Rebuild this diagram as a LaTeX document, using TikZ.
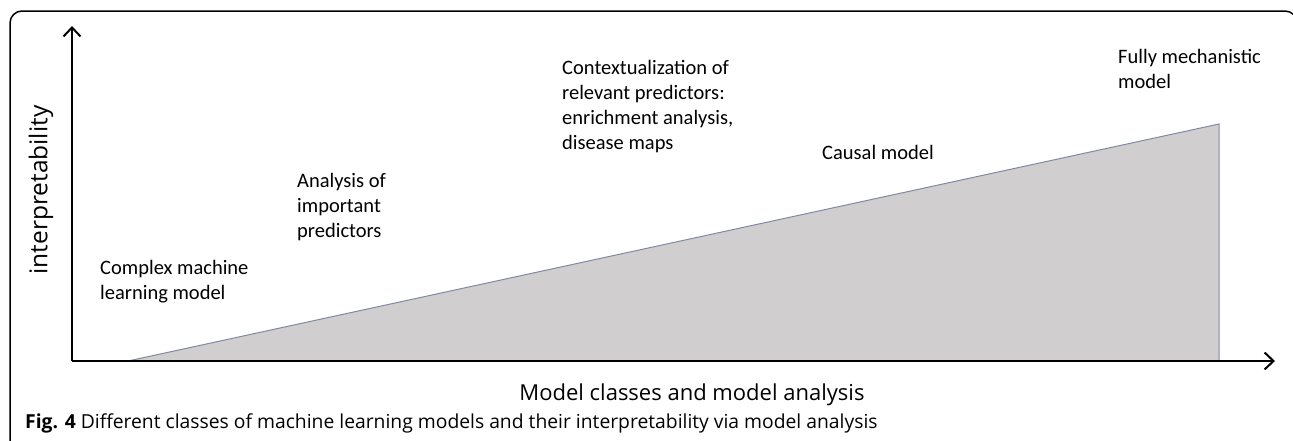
\documentclass[tikz,border=0pt]{standalone}
\usepackage{fontspec}
\setmainfont{Carlito}
\newfontfamily\axisfont{Open Sans}
\usepackage{tikz}
\usetikzlibrary{arrows.meta}
\definecolor{wedgefill}{HTML}{D0CECF}
\definecolor{wedgeline}{HTML}{7F8AA2}
\tikzset{axis/.style={line width=2pt,-{Straight Barb[length=9pt,width=17pt,line width=2pt]}}}
\tikzset{lbl/.style={anchor=base west,align=left,inner sep=0pt,font=\fontsize{20.5}{25}\selectfont}}

\begin{document}
\begin{tikzpicture}[x=1pt,y=-1pt]
	\useasboundingbox (0,0) rectangle (1293,440);
	\clip (0,0) rectangle (1293,440);
	\draw[line width=1.5pt,rounded corners=12pt] (10,446) -- (10,11) -- (1297,11) -- (1297,80);
	\coordinate (origin) at (72,361);
	\coordinate (ytip) at (72,26);
	\coordinate (xtip) at (1275,361);
	\coordinate (wl) at (128,361);
	\coordinate (wt) at (1219,124);
	\coordinate (wb) at (1219,361);
	\filldraw[fill=wedgefill,draw=wedgeline,line width=1pt] (wl) -- (wt) -- (wb) -- cycle;
	\draw[axis] (origin) -- (ytip);
	\draw[axis] (origin) -- (xtip);
	\node[lbl] (complex) at (100,299) {Complex machine\\learning model};
	\node[lbl] (important) at (297,237) {Analysis of\\important\\predictors};
	\node[lbl] (context) at (562,149) {Contextualization of\\relevant predictors:\\enrichment analysis,\\disease maps};
	\node[lbl] (causal) at (822,159) {Causal model};
	\node[lbl] (mechanistic) at (1118,88) {Fully mechanistic\\model};
	\node[rotate=90,font=\axisfont\fontsize{24.5}{30}\selectfont] (ylabel) at (41,190) {interpretability};
	\node[anchor=base,inner sep=0pt,font=\axisfont\fontsize{22}{26}\selectfont] (xlabel) at (692,400) {Model classes and model analysis};
	\node[anchor=base west,inner sep=0pt,font=\axisfont\fontsize{19.3}{22}\selectfont] (caption) at (25,428) {\textbf{Fig. 4} Different classes of machine learning models and their interpretability via model analysis};
\end{tikzpicture}
\end{document}
